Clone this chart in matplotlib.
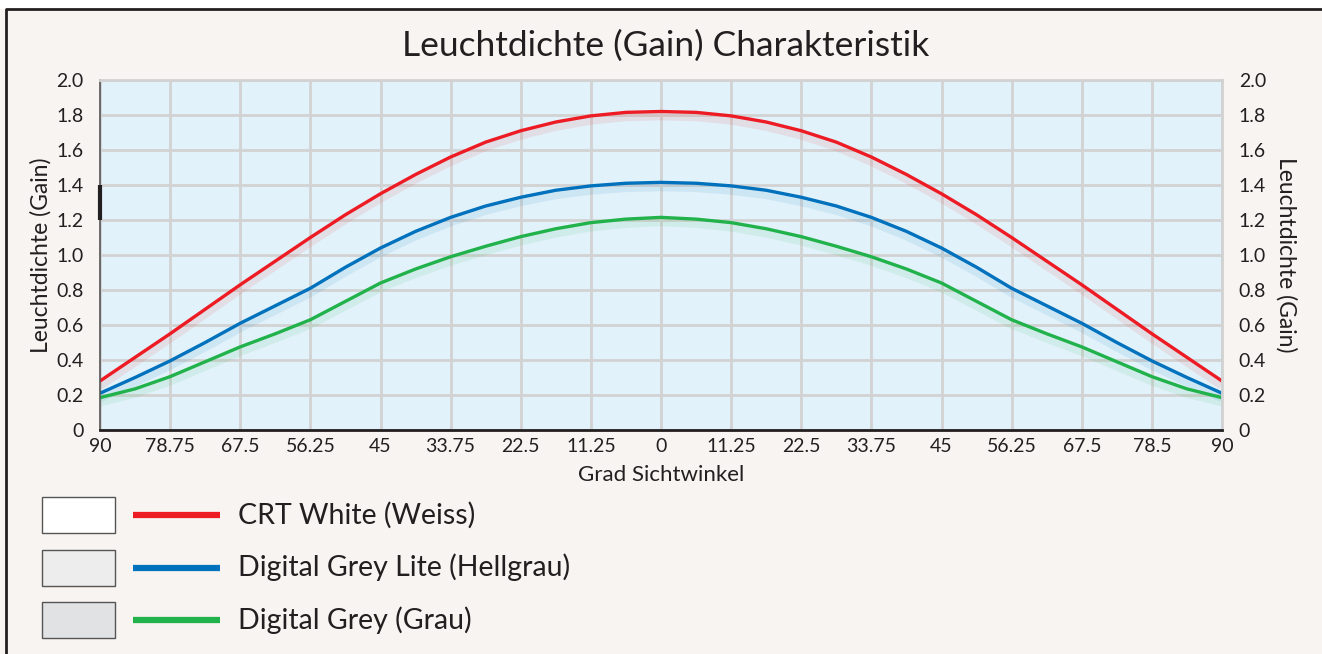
import matplotlib
matplotlib.use('Agg')
import matplotlib.pyplot as plt
from matplotlib.lines import Line2D
from matplotlib.patches import Rectangle
from matplotlib.transforms import offset_copy

plt.rcParams['font.family'] = ['Lato', 'DejaVu Sans']

# viewing angle, -90 (left) .. 0 .. 90 (right), in half-tick steps
angles = [-90, -84.375, -78.75, -73.125, -67.5, -61.875, -56.25, -50.625, -45,
          -39.375, -33.75, -28.125, -22.5, -16.875, -11.25, -5.625, 0,
          5.625, 11.25, 16.875, 22.5, 28.125, 33.75, 39.375, 45,
          50.625, 56.25, 61.875, 67.5, 73.125, 78.75, 84.375, 90]

crt_white = [0.28, 0.415, 0.55, 0.69, 0.83, 0.965, 1.10, 1.23, 1.35, 1.46, 1.56, 1.645,
             1.71, 1.76, 1.795, 1.815, 1.82,
             1.815, 1.795, 1.76, 1.71, 1.645, 1.56, 1.46, 1.35, 1.23, 1.10, 0.965,
             0.83, 0.69, 0.55, 0.415, 0.28]
grey_lite = [0.21, 0.30, 0.395, 0.50, 0.61, 0.71, 0.81, 0.93, 1.04, 1.135, 1.215, 1.28,
             1.33, 1.37, 1.395, 1.41, 1.415,
             1.41, 1.395, 1.37, 1.33, 1.28, 1.215, 1.135, 1.04, 0.93, 0.81, 0.71,
             0.61, 0.50, 0.395, 0.30, 0.21]
grey = [0.185, 0.235, 0.305, 0.39, 0.475, 0.55, 0.63, 0.735, 0.84, 0.92, 0.99, 1.05,
        1.105, 1.15, 1.185, 1.205, 1.215,
        1.205, 1.185, 1.15, 1.105, 1.05, 0.99, 0.92, 0.84, 0.735, 0.63, 0.55,
        0.475, 0.39, 0.305, 0.235, 0.185]

x_ticks = [-90, -78.75, -67.5, -56.25, -45, -33.75, -22.5, -11.25, 0,
           11.25, 22.5, 33.75, 45, 56.25, 67.5, 78.75, 90]
x_labels = ['90', '78.75', '67.5', '56.25', '45', '33.75', '22.5', '11.25', '0',
            '11.25', '22.5', '33.75', '45', '56.25', '67.5', '78.5', '90']
y_ticks = [0, 0.2, 0.4, 0.6, 0.8, 1.0, 1.2, 1.4, 1.6, 1.8, 2.0]
y_labels = ['0', '0.2', '0.4', '0.6', '0.8', '1.0', '1.2', '1.4', '1.6', '1.8', '2.0']

series = [crt_white, grey_lite, grey]
names = ['CRT White (Weiss)', 'Digital Grey Lite (Hellgrau)', 'Digital Grey (Grau)']
colors = ['#ed1c24', '#0071bc', '#22b24c']
swatches = ['#ffffff', '#ededed', '#e1e2e4']

W, H = 1322, 654
fig = plt.figure(figsize=(W / 100, H / 100), dpi=100, facecolor='#f7f4f1')

# page border (top and left)
fig.add_artist(Line2D([6 / W, 6 / W, 1], [0, 1 - 9 / H, 1 - 9 / H],
                      color='#231f20', lw=2, transform=fig.transFigure))
fig.add_artist(Rectangle((0, 1 - 8 / H), 1, 8 / H, color='white',
                         transform=fig.transFigure, zorder=0))

ax = fig.add_axes([100 / W, 1 - 430 / H, 1122 / W, 350 / H])
ax.set_facecolor('#e2f2fa')
ax.set_xlim(-90, 90)
ax.set_ylim(0, 2.0)
ax.set_xticks(x_ticks, x_labels)
ax.set_yticks(y_ticks, y_labels)
ax.tick_params(length=0, labelsize=14, colors='#231f20')
ax.tick_params(axis='y', pad=12)
ax.tick_params(axis='x', pad=6)
ax.grid(color='#d2d2d2', lw=2)
ax.set_axisbelow(True)
for side in ['top', 'right']:
    ax.spines[side].set_color('#d2d2d2')
    ax.spines[side].set_linewidth(2)
ax.spines['left'].set_color('#555555')
ax.spines['left'].set_linewidth(1.2)
ax.spines['bottom'].set_color('#231f20')
ax.spines['bottom'].set_linewidth(2)
ax.vlines(-90, 1.2, 1.4, color='#231f20', lw=3, clip_on=False, zorder=5)

shadow = offset_copy(ax.transData, fig=fig, x=0, y=-4, units='dots')
for values, c in zip(series, colors):
    ax.plot(angles, values, color=c, lw=7, alpha=0.09, transform=shadow,
            solid_capstyle='butt', solid_joinstyle='round')
    ax.plot(angles, values, color=c, lw=2.4, solid_capstyle='butt',
            solid_joinstyle='round')

ax.set_ylabel('Leuchtdichte (Gain)', fontsize=16.5, color='#231f20', labelpad=3)
ax.set_xlabel('Grad Sichtwinkel', fontsize=16, color='#231f20', labelpad=7)

ax2 = ax.twinx()
ax2.set_ylim(0, 2.0)
ax2.set_yticks(y_ticks, y_labels)
ax2.tick_params(length=0, labelsize=14, colors='#231f20', pad=12)
ax2.set_ylabel('Leuchtdichte (Gain)', fontsize=16.5, color='#231f20',
               rotation=-90, labelpad=22)
for s in ax2.spines.values():
    s.set_visible(False)

fig.text(666 / W, 1 - 46 / H, 'Leuchtdichte (Gain) Charakteristik',
         fontsize=25.5, color='#231f20', ha='center', va='center')

# legend
leg = fig.add_axes([0, 0, 1, 1], zorder=-1)
leg.set_xlim(0, W)
leg.set_ylim(H, 0)
leg.axis('off')
for i, (name, c, sw) in enumerate(zip(names, colors, swatches)):
    yc = 515 + i * 52.5
    leg.add_patch(Rectangle((42, yc - 18), 73, 36, facecolor=sw,
                            edgecolor='#555555', lw=1))
    leg.plot([133, 220], [yc, yc], color=c, lw=4.5, solid_capstyle='butt')
    leg.text(238, yc, name, fontsize=20.5, color='#231f20', va='center', ha='left')

fig.savefig('out.png', dpi=100, facecolor=fig.get_facecolor())
